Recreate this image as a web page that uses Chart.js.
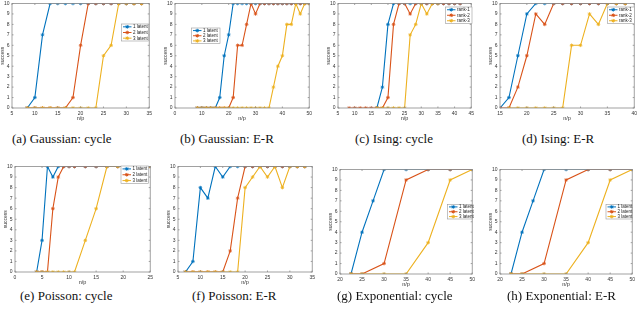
<!DOCTYPE html>
<html lang="en">
<head>
    <meta charset="UTF-8">
    <title>success vs n/p</title>
    <style>
        body {
            margin: 0;
            width: 640px;
            height: 310px;
            background: #fff;
            position: relative;
            overflow: hidden;
        }
        canvas {
            position: absolute;
        }
        .cap {
            position: absolute;
            font-family: "Liberation Serif", "DejaVu Serif", serif;
            font-size: 13px;
            color: #111;
            white-space: nowrap;
        }
    </style>
</head>
<body>

<script src="https://cdn.jsdelivr.net/npm/chart.js"></script>
<script>
    // legend labels
    const latentLabels = ['1 latent', '2 latent', '3 latent'];
    const rankLabels = ['rank-1', 'rank-2', 'rank-3'];

    // (a) Gaussian: cycle
    const xsA = [8.33, 10, 11.67, 13.33, 15, 16.67, 18.33, 20, 21.67, 23.33, 25, 26.67, 28.33, 30, 31.67, 33.33];
    const aBlue = [0, 1, 7, 10, 10, 10, 10, 10, 10, 10, 10, 10, 10, 10, 10, 10];
    const aRed  = [0, 0, 0, 0, 0, 0, 1, 6, 10, 10, 10, 10, 10, 10, 10, 10];
    const aYel  = [0, 0, 0, 0, 0, 0, 0, 0, 0, 0, 5, 6, 10, 10, 10, 10];

    // (b) Gaussian: E-R
    const xsB = [8.33, 10, 11.67, 13.33, 15, 16.67, 18.33, 20, 21.67, 23.33, 25, 26.67, 28.33, 30, 31.67, 33.33, 35, 36.67, 38.33, 40, 41.67, 43.33, 45, 46.67, 48.33, 50];
    const bBlue = [0, 0, 0, 0, 0, 1, 5, 7, 10, 10, 10, 10, 10, 10, 10, 10, 10, 10, 10, 10, 10, 10, 10, 10, 10, 10];
    const bRed  = [0, 0, 0, 0, 0, 0, 0, 0, 1, 6, 6, 8, 10, 9, 10, 10, 10, 10, 10, 10, 10, 10, 10, 10, 10, 10];
    const bYel  = [0, 0, 0, 0, 0, 0, 0, 0, 0, 0, 0, 0, 0, 0, 0, 0, 0, 2, 4, 5, 8, 8, 10, 9, 10, 10];

    // (c) Ising: cycle
    const xsC = [8.33, 10, 11.67, 13.33, 15, 16.67, 18.33, 20, 21.67, 23.33, 25, 26.67, 28.33, 30, 31.67, 33.33, 35, 36.67, 38.33, 40, 41.67];
    const cBlue = [null, null, null, null, null, 0, 2, 8, 10, 10, 10, 10, 10, 10, 10, 10, 10, 10, 10, 10, 10];
    const cRed  = [0, 0, 0, 0, 0, 0, 0, 1, 8, 10, 10, 9, 10, 10, 10, 10, 10, 10, 10, 10, 10];
    const cYel  = [null, null, null, null, null, 0, 0, 0, 0, 0, 0, 7, 8, 10, 9, 10, 10, null, null, null, null];

    // (d) Ising: E-R
    const xsD = [15, 16.67, 18.33, 20, 21.67, 23.33, 25, 26.67, 28.33, 30, 31.67, 33.33, 35, 36.67, 38.33];
    const dBlue = [0, 1, 5, 9, 10, 10, 10, 10, 10, 10, 10, 10, 10, 10, 10];
    const dRed  = [0, 0, 2, 5, 9, 8, 10, 10, 10, 10, 10, 10, 10, 10, 10];
    const dYel  = [null, 0, 0, 0, 0, 0, 0, 0, 6, 6, 9, 8, 10, 10, 10];

    // (e) Poisson: cycle
    const xsE = [4, 5, 6, 7, 8, 9, 10, 11, 13, 15, 17, 19, 21, 23, 25];
    const eBlue = [0, 3, 10, 9, 10, 10, 10, 10, 10, 10, 10, 10, 10, 10, 10];
    const eRed  = [0, 0, 0, 6, 9, 10, 10, 10, 10, 10, 10, 10, 10, 10, 10];
    const eYel  = [0, 0, 0, 0, 0, 0, 0, 0, 3, 6, 10, 10, 10, 10, 10];

    // (f) Poisson: E-R
    const xsF = [6.67, 8.33, 10, 11.67, 13.33, 15, 16.67, 18.33, 20, 21.67, 23.33, 25, 26.67, 28.33, 30, 31.67, 33.33];
    const fBlue = [0, 1, 8, 7, 10, 9, 10, 10, 10, 10, 10, 10, 10, 10, 10, 10, 10];
    const fRed  = [0, 0, 0, 0, 0, 0, 2, 7, 10, 10, 10, 10, 10, 10, 10, 10, 10];
    const fYel  = [0, 0, 0, 0, 0, 0, 0, 0, 8, 9, 10, 9, 10, 8, 10, 10, 10];

    // (g) Exponential: cycle  /  (h) Exponential: E-R
    const xsG = [22.5, 25, 27.5, 30, 35, 40, 45, 50];
    const gBlue = [0, 4, 7, 10, 10, 10, 10, 10];
    const gRed  = [0, 0, null, 1, 9, 10, 10, 10];
    const gYel  = [0, 0, null, 0, 0, 3, 9, 10];
    const hBlue = [0, 4, 7, 10, 10, 10, 10, 10];
    const hRed  = [0, 0, null, 1, 9, 10, 10, 10];
    const hYel  = [0, 0, null, 0, 0, 3, 9, 10];

    const captions = ['(a) Gaussian: cycle', '(b) Gaussian: E-R', '(c) Ising: cycle', '(d) Ising: E-R',
                      '(e) Poisson: cycle', '(f) Poisson: E-R', '(g) Exponential: cycle', '(h) Exponential: E-R'];

    const COLORS = ['#0072BD', '#D95319', '#EDB120'];
    const PAD_L = 13, PAD_T = 4, PAD_R = 4, PAD_B = 15;

    // panel layout: plot box in page px, legend box in page px, caption position
    const panels = [
        { xs: xsA, ys: [aBlue, aRed, aYel], names: latentLabels, xr: [5, 35, 5],  plot: [12, 2, 151, 108],    leg: [121.5, 24, 148.5, 41],  cap: [12, 131] },
        { xs: xsB, ys: [bBlue, bRed, bYel], names: latentLabels, xr: [0, 50, 10], plot: [175, 2, 311, 108],   leg: [191.5, 28, 220, 43.5],  cap: [180, 131] },
        { xs: xsC, ys: [cBlue, cRed, cYel], names: rankLabels,   xr: [5, 45, 5],  plot: [338, 2, 473, 108],   leg: [445.5, 7, 472, 23.5],   cap: [355, 131] },
        { xs: xsD, ys: [dBlue, dRed, dYel], names: rankLabels,   xr: [15, 40, 5], plot: [500, 2, 636, 108],   leg: [607.5, 7, 634.5, 23.5], cap: [522, 131] },
        { xs: xsE, ys: [eBlue, eRed, eYel], names: latentLabels, xr: [0, 25, 5],  plot: [15, 165, 152, 272],  leg: [121, 166, 148.5, 183.5], cap: [20, 288] },
        { xs: xsF, ys: [fBlue, fRed, fYel], names: null,         xr: [5, 35, 5],  plot: [178, 165, 314, 272], leg: null,                    cap: [192, 288] },
        { xs: xsG, ys: [gBlue, gRed, gYel], names: latentLabels, xr: [20, 50, 5], plot: [340, 168, 474, 274], leg: [447.5, 204.5, 472, 219], cap: [337, 288] },
        { xs: xsG, ys: [hBlue, hRed, hYel], names: latentLabels, xr: [20, 50, 5], plot: [500, 168, 634, 274], leg: [606, 204.5, 632, 219],  cap: [507, 288] }
    ];

    // box around the axes with inward ticks (matlab look)
    const framePlugin = {
        id: 'frame',
        afterDatasetsDraw(chart) {
            const a = chart.chartArea, ctx = chart.ctx;
            const xs = chart.scales.x, ys = chart.scales.y;
            ctx.save();
            ctx.strokeStyle = '#8a8a8a';
            ctx.lineWidth = 0.8;
            ctx.strokeRect(a.left, a.top, a.right - a.left, a.bottom - a.top);
            ctx.beginPath();
            xs.ticks.forEach(t => {
                const px = xs.getPixelForValue(t.value);
                ctx.moveTo(px, a.bottom); ctx.lineTo(px, a.bottom - 1.5);
                ctx.moveTo(px, a.top); ctx.lineTo(px, a.top + 1.5);
            });
            ys.ticks.forEach(t => {
                const py = ys.getPixelForValue(t.value);
                ctx.moveTo(a.left, py); ctx.lineTo(a.left + 1.5, py);
                ctx.moveTo(a.right, py); ctx.lineTo(a.right - 1.5, py);
            });
            ctx.stroke();

            // legend box
            const lg = chart.options.plugins.boxLegend;
            if (lg && lg.box) {
                const [x0, y0, x1, y1] = lg.box;
                ctx.fillStyle = '#fff';
                ctx.fillRect(x0, y0, x1 - x0, y1 - y0);
                ctx.strokeStyle = '#9a9a9a';
                ctx.lineWidth = 0.6;
                ctx.strokeRect(x0, y0, x1 - x0, y1 - y0);
                const rh = (y1 - y0) / 3;
                ctx.font = '4.5px "Liberation Sans", Arial, sans-serif';
                ctx.textBaseline = 'middle';
                chart.data.datasets.forEach((ds, i) => {
                    const cy = y0 + rh * (i + 0.5);
                    ctx.strokeStyle = ds.borderColor;
                    ctx.lineWidth = 1;
                    ctx.beginPath();
                    ctx.moveTo(x0 + 1.5, cy); ctx.lineTo(x0 + 10, cy);
                    ctx.stroke();
                    Chart.helpers.drawPoint(ctx, { pointStyle: 'star', radius: 1.8, borderWidth: 0.8 }, x0 + 5.75, cy);
                    ctx.fillStyle = '#222';
                    ctx.fillText(ds.label, x0 + 11.5, cy + 0.3);
                });
            }
            ctx.restore();
        }
    };

    panels.forEach((p, k) => {
        const [L, T, R, B] = p.plot;
        const cl = Math.round(L - PAD_L), ct = Math.round(T - PAD_T);
        const w = Math.round(R - L) + PAD_L + PAD_R;
        const h = Math.round(B - T) + PAD_T + PAD_B;

        const cv = document.createElement('canvas');
        cv.width = w; cv.height = h;
        cv.style.left = cl + 'px'; cv.style.top = ct + 'px';
        cv.style.width = w + 'px'; cv.style.height = h + 'px';
        document.body.appendChild(cv);

        const cap = document.createElement('div');
        cap.className = 'cap';
        cap.textContent = captions[k];
        cap.style.left = p.cap[0] + 'px';
        cap.style.top = p.cap[1] + 'px';
        document.body.appendChild(cap);

        const names = p.names || latentLabels;
        const datasets = p.ys.map((ys, i) => ({
            label: names[i],
            data: p.xs.map((x, j) => ({ x: x, y: ys[j] })),
            borderColor: COLORS[i],
            backgroundColor: COLORS[i],
            borderWidth: 1.1,
            pointStyle: 'star',
            pointRadius: 1.8,
            pointBorderWidth: 0.8,
            spanGaps: true,
            order: 3 - i
        }));

        const tickFont = { family: '"Liberation Sans", Arial, sans-serif', size: 5 };
        const legBox = p.leg ? [p.leg[0] - cl, p.leg[1] - ct, p.leg[2] - cl, p.leg[3] - ct] : null;

        new Chart(cv.getContext('2d'), {
            type: 'line',
            data: { datasets: datasets },
            options: {
                responsive: false,
                animation: false,
                devicePixelRatio: 1,
                layout: { padding: { left: 0, top: PAD_T, right: PAD_R, bottom: 0 } },
                plugins: {
                    legend: { display: false },
                    tooltip: { enabled: false },
                    boxLegend: { box: legBox }
                },
                scales: {
                    x: {
                        type: 'linear',
                        min: p.xr[0], max: p.xr[1],
                        afterFit: s => { s.height = PAD_B; },
                        grid: { display: false, drawTicks: false },
                        border: { display: false },
                        ticks: { stepSize: p.xr[2], font: tickFont, color: '#333', padding: 3, maxRotation: 0 },
                        title: { display: true, text: 'n/p', font: { family: '"Liberation Sans", Arial, sans-serif', size: 5.5 }, color: '#333', padding: { top: 0, bottom: 1 } }
                    },
                    y: {
                        min: 0, max: 10,
                        afterFit: s => { s.width = PAD_L; },
                        grid: { display: false, drawTicks: false },
                        border: { display: false },
                        ticks: { stepSize: 1, font: tickFont, color: '#333', padding: 2.5 },
                        title: { display: true, text: 'success', font: { family: '"Liberation Sans", Arial, sans-serif', size: 5 }, color: '#333', padding: { top: 1, bottom: 0 } }
                    }
                }
            },
            plugins: [framePlugin]
        });
    });
</script>

</body>
</html>
